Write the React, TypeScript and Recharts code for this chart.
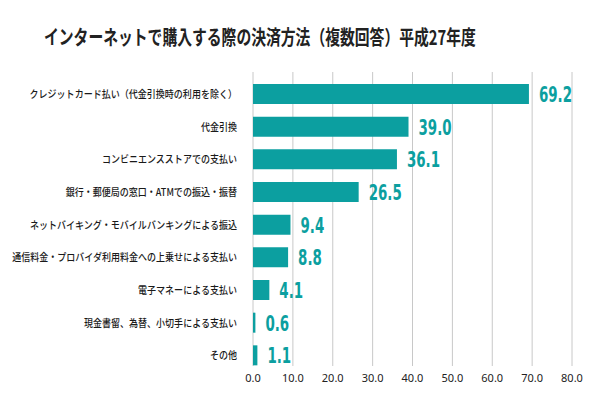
import React from "react";
import { BarChart, Bar, XAxis, YAxis, CartesianGrid, LabelList } from "recharts";

const title = "インターネットで購入する際の決済方法（複数回答）平成27年度";

const categories = [
  "クレジットカード払い（代金引換時の利用を除く）",
  "代金引換",
  "コンビニエンスストアでの支払い",
  "銀行・郵便局の窓口・ATMでの振込・振替",
  "ネットバイキング・モバイルバンキングによる振込",
  "通信料金・プロバイダ利用料金への上乗せによる支払い",
  "電子マネーによる支払い",
  "現金書留、為替、小切手による支払い",
  "その他",
];

const values = [69.2, 39.0, 36.1, 26.5, 9.4, 8.8, 4.1, 0.6, 1.1];

const xTicks = [0, 10, 20, 30, 40, 50, 60, 70, 80];

const data = categories.map((name, i) => ({ name, value: values[i] }));

const TEAL = "#0c9fa0";

const CategoryTick = (props: any) => {
  const { x, y, payload } = props;
  return (
    <g transform={`translate(${x},${y})`}>
      <text
        transform="scale(0.86,1)"
        textAnchor="end"
        dy="0.36em"
        fontSize={10.5}
        fontWeight={500}
        fill="#1a1a1a"
        fontFamily="'Noto Sans CJK JP', 'Noto Sans', sans-serif"
      >
        {payload.value}
      </text>
    </g>
  );
};

const ValueLabel = (props: any) => {
  const { x, y, width, height, value } = props;
  return (
    <g transform={`translate(${x + width + 10},${y + height / 2})`}>
      <text
        transform="scale(0.61,1)"
        dy="0.36em"
        fill={TEAL}
        fontSize={22}
        fontWeight="bold"
        fontFamily="'DejaVu Sans', sans-serif"
      >
        {Number(value).toFixed(1)}
      </text>
    </g>
  );
};

const GridLine = (props: any) => {
  const { x1, x2, y1, y2 } = props;
  return <line x1={x1} x2={x2} y1={y1 - 6} y2={y2 - 6} stroke="#c8c8c8" strokeWidth={1} />;
};

export default function App() {
  return (
    <div style={{ position: "absolute", left: 0, top: 0, width: 600, height: 400, background: "#fff" }}>
      <div
        style={{
          position: "absolute",
          left: 44,
          top: 23,
          whiteSpace: "nowrap",
          fontFamily: "'Noto Sans CJK JP', sans-serif",
          fontWeight: 700,
          fontSize: 20,
          color: "#222",
          transform: "scaleX(0.74)",
          transformOrigin: "left top",
          lineHeight: "28px",
        }}
      >
        {title}
      </div>
      <BarChart
        width={600}
        height={400}
        data={data}
        layout="vertical"
        margin={{ top: 78, right: 28, bottom: 0, left: 0 }}
      >
        <CartesianGrid horizontal={false} vertical={<GridLine />} />
        <XAxis
          type="number"
          domain={[0, 80]}
          ticks={xTicks}
          tickFormatter={(v: number) => v.toFixed(1)}
          axisLine={false}
          tickLine={false}
          tickSize={0}
          tickMargin={2}
          height={28}
          interval={0}
          tick={{ fontSize: 11, fill: "#222", fontFamily: "'Noto Sans', sans-serif" }}
        />
        <YAxis
          type="category"
          dataKey="name"
          width={253}
          axisLine={false}
          tickLine={false}
          tickSize={6}
          tickMargin={10}
          interval={0}
          tick={<CategoryTick />}
        />
        <Bar dataKey="value" fill={TEAL} barSize={20} isAnimationActive={false}>
          <LabelList dataKey="value" content={<ValueLabel />} />
        </Bar>
      </BarChart>
    </div>
  );
}
